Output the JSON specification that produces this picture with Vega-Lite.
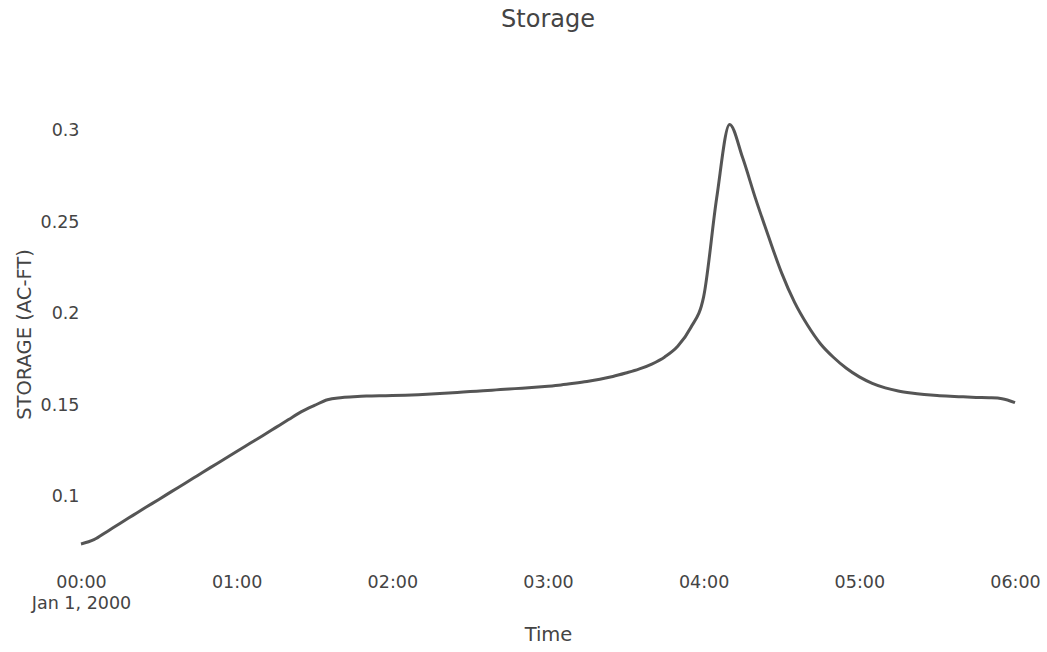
{
  "$schema": "https://vega.github.io/schema/vega-lite/v6.json",
  "width": 934,
  "height": 462,
  "autosize": {"type": "none"},
  "padding": {"left": 81, "top": 103, "right": 32, "bottom": 87},
  "background": "white",
  "title": {"text": "Storage", "font": "DejaVu Sans", "fontSize": 24, "fontWeight": "normal", "color": "#444444", "anchor": "middle", "offset": 71},
  "config": {"view": {"stroke": null}},
  "data": {"values": [
    {"time": "2000-01-01T00:00:00", "storage": 0.0743},
    {"time": "2000-01-01T00:05:00", "storage": 0.0766},
    {"time": "2000-01-01T00:10:00", "storage": 0.0810},
    {"time": "2000-01-01T00:15:00", "storage": 0.0855},
    {"time": "2000-01-01T00:20:00", "storage": 0.0899},
    {"time": "2000-01-01T00:25:00", "storage": 0.0943},
    {"time": "2000-01-01T00:30:00", "storage": 0.0986},
    {"time": "2000-01-01T00:35:00", "storage": 0.1030},
    {"time": "2000-01-01T00:40:00", "storage": 0.1073},
    {"time": "2000-01-01T00:45:00", "storage": 0.1117},
    {"time": "2000-01-01T00:50:00", "storage": 0.1161},
    {"time": "2000-01-01T00:55:00", "storage": 0.1204},
    {"time": "2000-01-01T01:00:00", "storage": 0.1248},
    {"time": "2000-01-01T01:05:00", "storage": 0.1291},
    {"time": "2000-01-01T01:10:00", "storage": 0.1334},
    {"time": "2000-01-01T01:15:00", "storage": 0.1378},
    {"time": "2000-01-01T01:20:00", "storage": 0.1422},
    {"time": "2000-01-01T01:25:00", "storage": 0.1465},
    {"time": "2000-01-01T01:30:00", "storage": 0.1499},
    {"time": "2000-01-01T01:35:00", "storage": 0.1530},
    {"time": "2000-01-01T01:40:00", "storage": 0.1541},
    {"time": "2000-01-01T01:45:00", "storage": 0.1546},
    {"time": "2000-01-01T01:50:00", "storage": 0.1550},
    {"time": "2000-01-01T01:55:00", "storage": 0.1552},
    {"time": "2000-01-01T02:00:00", "storage": 0.1553},
    {"time": "2000-01-01T02:05:00", "storage": 0.1555},
    {"time": "2000-01-01T02:10:00", "storage": 0.1558},
    {"time": "2000-01-01T02:15:00", "storage": 0.1562},
    {"time": "2000-01-01T02:20:00", "storage": 0.1566},
    {"time": "2000-01-01T02:25:00", "storage": 0.1570},
    {"time": "2000-01-01T02:30:00", "storage": 0.1575},
    {"time": "2000-01-01T02:35:00", "storage": 0.1579},
    {"time": "2000-01-01T02:40:00", "storage": 0.1584},
    {"time": "2000-01-01T02:45:00", "storage": 0.1589},
    {"time": "2000-01-01T02:50:00", "storage": 0.1593},
    {"time": "2000-01-01T02:55:00", "storage": 0.1598},
    {"time": "2000-01-01T03:00:00", "storage": 0.1604},
    {"time": "2000-01-01T03:05:00", "storage": 0.1611},
    {"time": "2000-01-01T03:10:00", "storage": 0.1620},
    {"time": "2000-01-01T03:15:00", "storage": 0.1630},
    {"time": "2000-01-01T03:20:00", "storage": 0.1642},
    {"time": "2000-01-01T03:25:00", "storage": 0.1657},
    {"time": "2000-01-01T03:30:00", "storage": 0.1676},
    {"time": "2000-01-01T03:35:00", "storage": 0.1697},
    {"time": "2000-01-01T03:40:00", "storage": 0.1725},
    {"time": "2000-01-01T03:45:00", "storage": 0.1764},
    {"time": "2000-01-01T03:50:00", "storage": 0.1822},
    {"time": "2000-01-01T03:55:00", "storage": 0.1923},
    {"time": "2000-01-01T04:00:00", "storage": 0.2093},
    {"time": "2000-01-01T04:05:00", "storage": 0.2630},
    {"time": "2000-01-01T04:10:00", "storage": 0.3033},
    {"time": "2000-01-01T04:15:00", "storage": 0.2852},
    {"time": "2000-01-01T04:20:00", "storage": 0.2628},
    {"time": "2000-01-01T04:25:00", "storage": 0.2421},
    {"time": "2000-01-01T04:30:00", "storage": 0.2224},
    {"time": "2000-01-01T04:35:00", "storage": 0.2063},
    {"time": "2000-01-01T04:40:00", "storage": 0.1938},
    {"time": "2000-01-01T04:45:00", "storage": 0.1836},
    {"time": "2000-01-01T04:50:00", "storage": 0.1762},
    {"time": "2000-01-01T04:55:00", "storage": 0.1702},
    {"time": "2000-01-01T05:00:00", "storage": 0.1655},
    {"time": "2000-01-01T05:05:00", "storage": 0.1620},
    {"time": "2000-01-01T05:10:00", "storage": 0.1595},
    {"time": "2000-01-01T05:15:00", "storage": 0.1578},
    {"time": "2000-01-01T05:20:00", "storage": 0.1567},
    {"time": "2000-01-01T05:25:00", "storage": 0.1559},
    {"time": "2000-01-01T05:30:00", "storage": 0.1553},
    {"time": "2000-01-01T05:35:00", "storage": 0.1549},
    {"time": "2000-01-01T05:40:00", "storage": 0.1546},
    {"time": "2000-01-01T05:45:00", "storage": 0.1543},
    {"time": "2000-01-01T05:50:00", "storage": 0.1541},
    {"time": "2000-01-01T05:55:00", "storage": 0.1536},
    {"time": "2000-01-01T06:00:00", "storage": 0.1514}
  ]},
  "mark": {"type": "line", "color": "#555555", "strokeWidth": 3, "interpolate": "monotone"},
  "encoding": {
    "x": {
      "field": "time",
      "type": "temporal",
      "title": "Time",
      "scale": {"nice": false},
      "axis": {
        "grid": false,
        "domain": false,
        "ticks": false,
        "tickCount": 6,
        "format": "%H:%M",
        "labelExpr": "datum.index == 0 ? [datum.label, 'Jan 1, 2000'] : datum.label",
        "labelFont": "DejaVu Sans",
        "labelFontSize": 17.5,
        "labelColor": "#444444",
        "labelLineHeight": 21,
        "labelPadding": 8,
        "labelFlush": false,
        "labelOverlap": false,
        "titleFont": "DejaVu Sans",
        "titleFontSize": 19.5,
        "titleFontWeight": "normal",
        "titleColor": "#444444",
        "titlePadding": 14
      }
    },
    "y": {
      "field": "storage",
      "type": "quantitative",
      "title": "STORAGE (AC-FT)",
      "scale": {"domain": [0.0628, 0.315], "nice": false, "zero": false},
      "axis": {
        "grid": false,
        "domain": false,
        "ticks": false,
        "values": [0.1, 0.15, 0.2, 0.25, 0.3],
        "format": ".2~f",
        "labelFont": "DejaVu Sans",
        "labelFontSize": 17.5,
        "labelColor": "#444444",
        "labelPadding": 2,
        "titleFont": "DejaVu Sans",
        "titleFontSize": 19.5,
        "titleFontWeight": "normal",
        "titleColor": "#444444",
        "titlePadding": 6
      }
    }
  }
}
